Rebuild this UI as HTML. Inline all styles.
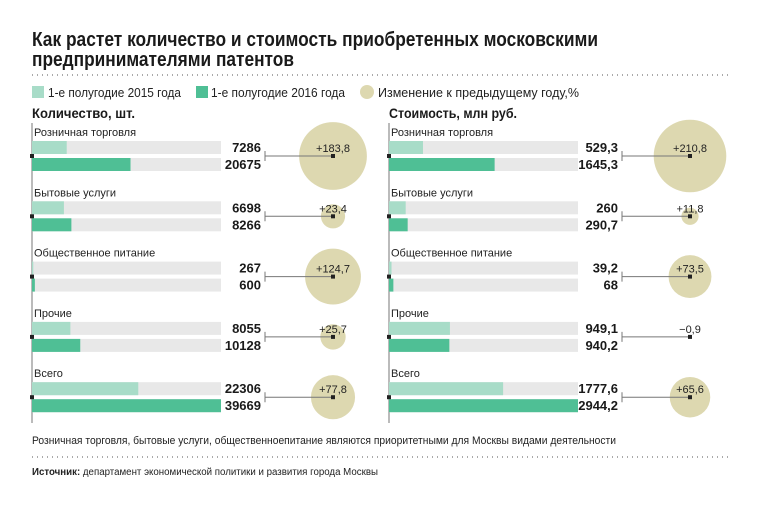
<!DOCTYPE html>
<html><head><meta charset="utf-8"><style>
body{margin:0;background:#fff;}
svg{display:block;font-family:"Liberation Sans",sans-serif;}
</style></head><body>
<svg id="c" width="760" height="509" viewBox="0 0 760 509">
<text x="32" y="46" font-size="20" font-weight="bold" fill="#1a1a1a" textLength="566" lengthAdjust="spacingAndGlyphs">Как растет количество и стоимость приобретенных московскими</text>
<text x="32" y="66" font-size="20" font-weight="bold" fill="#1a1a1a" textLength="262" lengthAdjust="spacingAndGlyphs">предпринимателями патентов</text>
<line x1="32" y1="75" x2="728" y2="75" stroke="#555" stroke-width="1" stroke-dasharray="1,4"/>
<g>
<rect x="32" y="86" width="12" height="12" fill="#a8dcc8"/>
<text x="48" y="97" font-size="13" fill="#222" textLength="133" lengthAdjust="spacingAndGlyphs">1-е полугодие 2015 года</text>
<rect x="196" y="86" width="12" height="12" fill="#4fbf95"/>
<text x="211" y="97" font-size="13" fill="#222" textLength="134" lengthAdjust="spacingAndGlyphs">1-е полугодие 2016 года</text>
<circle cx="367" cy="92" r="7" fill="#ddd8b0"/>
<text x="378" y="97" font-size="13" fill="#222" textLength="201" lengthAdjust="spacingAndGlyphs">Изменение к предыдущему году,%</text>
</g>
<text x="32" y="118" font-size="14" font-weight="bold" fill="#1a1a1a" textLength="103" lengthAdjust="spacingAndGlyphs">Количество, шт.</text>
<text x="389" y="118" font-size="14" font-weight="bold" fill="#1a1a1a" textLength="128" lengthAdjust="spacingAndGlyphs">Стоимость, млн руб.</text>
<text x="32" y="444" font-size="11" fill="#222" textLength="584" lengthAdjust="spacingAndGlyphs">Розничная торговля, бытовые услуги, общественноепитание являются  приоритетными для Москвы видами деятельности</text>
<line x1="32" y1="457" x2="728" y2="457" stroke="#555" stroke-width="1" stroke-dasharray="1,4"/>
<text x="32" y="475" font-size="10" fill="#222" textLength="346" lengthAdjust="spacingAndGlyphs"><tspan font-weight="bold">Источник:</tspan> департамент экономической политики и развития города Москвы</text>
<g id="panels"></g>
</svg>
<script>
const categories = ["Розничная торговля","Бытовые услуги","Общественное питание","Прочие","Всего"];
const countH1_2015 = [7286,6698,267,8055,22306];
const countH1_2016 = [20675,8266,600,10128,39669];
const countChange = [183.8,23.4,124.7,25.7,77.8];
const countLabels2015 = ["7286","6698","267","8055","22306"];
const countLabels2016 = ["20675","8266","600","10128","39669"];
const countChangeLabels = ["+183,8","+23,4","+124,7","+25,7","+77,8"];
const costH1_2015 = [529.3,260,39.2,949.1,1777.6];
const costH1_2016 = [1645.3,290.7,68,940.2,2944.2];
const costChange = [210.8,11.8,73.5,-0.9,65.6];
const costLabels2015 = ["529,3","260","39,2","949,1","1777,6"];
const costLabels2016 = ["1645,3","290,7","68","940,2","2944,2"];
const costChangeLabels = ["+210,8","+11,8","+73,5","−0,9","+65,6"];

const NS="http://www.w3.org/2000/svg";
const root=document.getElementById('panels');
function mk(tag,attrs,parent){const e=document.createElementNS(NS,tag);for(const k in attrs)e.setAttribute(k,attrs[k]);parent.appendChild(e);return e;}
function panel(x0,key,a,b,ch,la,lb,lc){
  const g=mk('g',{},root);
  
  
  const W=189, max=Math.max(...a,...b);
  const xs=v=>W*v/max;
  const yRow=i=>141+i*60.3;
  const rs=v=>2.5*Math.sqrt(Math.max(v,0));
  const valX=x0+229, lineX0=x0+233, cx=x0+301;
  const ax=mk('line',{x1:x0,y1:123,x2:x0,y2:423,stroke:'#777','stroke-width':1},g);
  
  
  categories.forEach((c,i)=>{
    const y=yRow(i), mid=y+15;
    const circ=mk('circle',{cx:cx,cy:mid,r:rs(ch[i]),fill:'#ddd8b0'},g);
    
    
    const t=mk('text',{x:x0+2,y:y-5,'font-size':11,fill:'#222'},g);t.textContent=c;
    
    
    [[a,'#a8dcc8',la,0],[b,'#4fbf95',lb,17]].forEach(([arr,col,lab,dy])=>{
      const bg=mk('rect',{x:x0,y:y+dy,width:W,height:13,fill:'#e8e8e8'},g);
      
      
      const r=mk('rect',{x:x0,y:y+dy,width:xs(arr[i]),height:13,fill:col},g);
      
      
      const v=mk('text',{x:valX,y:y+dy+11,'font-size':13,'font-weight':'bold','text-anchor':'end',fill:'#1a1a1a'},g);v.textContent=lab[i];
      
      
    });
    const dot=mk('rect',{x:x0-2,y:mid-2,width:4,height:4,fill:'#222'},g);
    
    
    const ln=mk('line',{x1:lineX0,y1:mid,x2:cx,y2:mid,stroke:'#777','stroke-width':1},g);
    
    
    const tk=mk('line',{x1:lineX0,y1:mid-5,x2:lineX0,y2:mid+5,stroke:'#777','stroke-width':1},g);
    
    
    const cd=mk('rect',{x:cx-2,y:mid-2,width:4,height:4,fill:'#222'},g);
    
    
    const ct=mk('text',{x:cx,y:mid-4,'font-size':11,'text-anchor':'middle',fill:'#222'},g);ct.textContent=lc[i];
    
    
  });
}
panel(32,'count',countH1_2015,countH1_2016,countChange,countLabels2015,countLabels2016,countChangeLabels);
panel(389,'cost',costH1_2015,costH1_2016,costChange,costLabels2015,costLabels2016,costChangeLabels);
</script>
</body></html>
